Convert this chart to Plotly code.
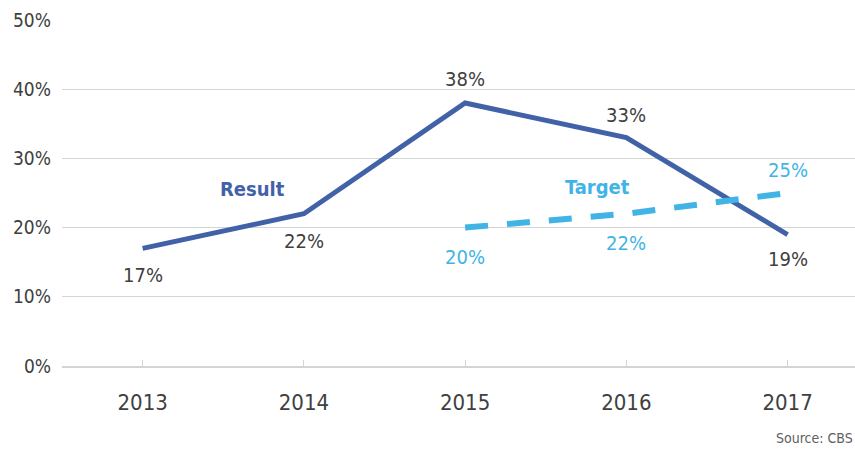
import plotly.graph_objects as go

# Yearly results vs. targets (percent)
years = ["2013", "2014", "2015", "2016", "2017"]
result = [17, 22, 38, 33, 19]
target_years = ["2015", "2016", "2017"]
target = [20, 22, 25]

y_ticks = [0, 10, 20, 30, 40, 50]
y_tick_labels = ["0%", "10%", "20%", "30%", "40%", "50%"]

# vertical offset (px) for each value label: positive above, negative below
result_label_shift = [-27, -27, 24, 23, -24]
target_label_shift = [-29, -29, 23]

FONT = "DejaVu Sans Condensed, Liberation Sans Narrow, Roboto, sans-serif"
DARK_BLUE = "#4262a8"
LIGHT_BLUE = "#41b4e5"
TEXT_GREY = "#404040"
GRID = "#d4d4d4"

fig = go.Figure()

fig.add_trace(go.Scatter(
    x=years, y=result, mode="lines",
    line=dict(color=DARK_BLUE, width=5),
    hoverinfo="skip", showlegend=False,
))
fig.add_trace(go.Scatter(
    x=target_years, y=target, mode="lines",
    line=dict(color=LIGHT_BLUE, width=6, dash="23px,19px"),
    hoverinfo="skip", showlegend=False,
))

annotations = []
# category axis positions are addressed by index
for yr, v, s in zip(years, result, result_label_shift):
    annotations.append(dict(
        x=years.index(yr), y=v, xref="x", yref="y", text=f"{v}%",
        showarrow=False, yshift=s,
        font=dict(family=FONT, size=20, color=TEXT_GREY),
    ))
for yr, v, s in zip(target_years, target, target_label_shift):
    annotations.append(dict(
        x=years.index(yr), y=v, xref="x", yref="y", text=f"{v}%",
        showarrow=False, yshift=s,
        font=dict(family=FONT, size=20, color=LIGHT_BLUE),
    ))

# series names placed beside the lines
annotations.append(dict(
    x=0.68, y=25.6, xref="x", yref="y", text="<b>Result</b>", showarrow=False,
    font=dict(family=FONT, size=20, color=DARK_BLUE),
))
annotations.append(dict(
    x=2.82, y=25.8, xref="x", yref="y", text="<b>Target</b>", showarrow=False,
    font=dict(family=FONT, size=20, color=LIGHT_BLUE),
))
annotations.append(dict(
    x=1, y=0, xref="paper", yref="paper", xanchor="right", yanchor="middle",
    yshift=-72, text="Source: CBS", showarrow=False,
    font=dict(family=FONT, size=14, color="#606060"),
))

fig.update_layout(
    width=855, height=452,
    margin=dict(l=62, r=0, t=20, b=86),
    paper_bgcolor="white", plot_bgcolor="white",
    annotations=annotations,
    xaxis=dict(
        type="category", range=[-0.5, 4.418], automargin=False,
        showgrid=False, zeroline=False,
        showline=True, linecolor=GRID, linewidth=1.5,
        ticks="inside", ticklen=6, tickcolor=GRID, tickwidth=1,
        ticklabelstandoff=16,
        tickfont=dict(family=FONT, size=22, color=TEXT_GREY),
    ),
    yaxis=dict(
        range=[0, 50], tickvals=y_ticks, ticktext=y_tick_labels,
        automargin=False,
        showgrid=True, gridcolor=GRID, gridwidth=1.2,
        zeroline=False, showline=False,
        ticklabelstandoff=10,
        tickfont=dict(family=FONT, size=19, color=TEXT_GREY),
    ),
)

fig.write_html("out.html")
